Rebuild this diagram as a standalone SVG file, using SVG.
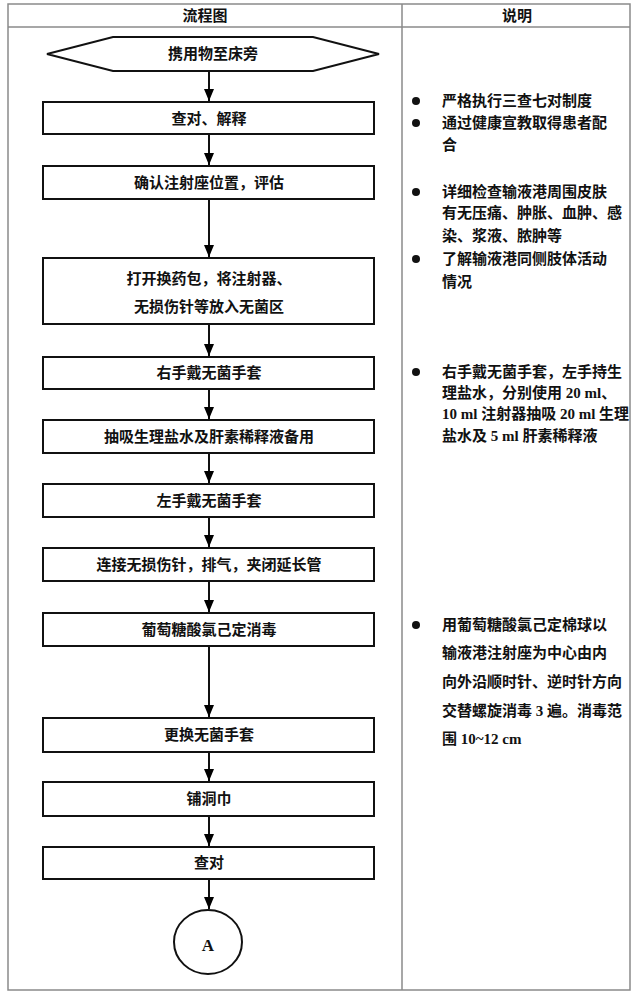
<svg xmlns="http://www.w3.org/2000/svg" width="639" height="999" viewBox="0 0 639 999">
<defs>
<marker id="ah" markerWidth="12" markerHeight="10" refX="12" refY="5" orient="auto" markerUnits="userSpaceOnUse" viewBox="0 0 12 10">
<path d="M0,0 L12,5 L0,10 Z" fill="#000"/>
</marker>
<style>
.grid{stroke:#8a8a8a;stroke-width:1.5;fill:none}
.box{fill:#fff;stroke:#111;stroke-width:2}
.t{font-family:"Liberation Serif","Noto Sans CJK SC",serif;font-size:15px;font-weight:bold;fill:#111;text-anchor:middle;dominant-baseline:central}
.r{font-family:"Liberation Serif","Noto Sans CJK SC",serif;font-size:15px;font-weight:bold;fill:#111;dominant-baseline:central}
.c{stroke:#111;stroke-width:2;fill:none}
</style>
</defs>
<rect width="639" height="999" fill="#fff"/>
<g id="table">
<rect x="8" y="4" width="622" height="986" class="grid"/>
<line x1="8" y1="27" x2="630" y2="27" class="grid"/>
<line x1="402" y1="4" x2="402" y2="990" class="grid"/>
<text x="205" y="16" class="t">流程图</text>
<text x="517" y="16" class="t">说明</text>
</g>
<g id="connectors">
<line x1="209" y1="71" x2="209" y2="101" class="c" marker-end="url(#ah)"/>
<line x1="209" y1="134" x2="209" y2="165" class="c" marker-end="url(#ah)"/>
<line x1="209" y1="199" x2="209" y2="257" class="c" marker-end="url(#ah)"/>
<line x1="209" y1="324" x2="209" y2="356" class="c" marker-end="url(#ah)"/>
<line x1="209" y1="389" x2="209" y2="419" class="c" marker-end="url(#ah)"/>
<line x1="209" y1="453" x2="209" y2="483" class="c" marker-end="url(#ah)"/>
<line x1="209" y1="517" x2="209" y2="547" class="c" marker-end="url(#ah)"/>
<line x1="209" y1="581" x2="209" y2="612" class="c" marker-end="url(#ah)"/>
<line x1="209" y1="646" x2="209" y2="717" class="c" marker-end="url(#ah)"/>
<line x1="209" y1="752" x2="209" y2="781" class="c" marker-end="url(#ah)"/>
<line x1="209" y1="816" x2="209" y2="846" class="c" marker-end="url(#ah)"/>
<line x1="209" y1="879" x2="209" y2="909" class="c" marker-end="url(#ah)"/>
</g>
<g id="n0">
<polygon points="47,54 113,37 313,37 379,54 313,71 113,71" class="box"/>
<text x="213" y="54" class="t">携用物至床旁</text>
</g>
<g id="n1"><rect x="43" y="102" width="331" height="32" class="box"/><text x="209" y="119" class="t">查对、解释</text></g>
<g id="n2"><rect x="43" y="166" width="331" height="33" class="box"/><text x="209" y="183" class="t">确认注射座位置，评估</text></g>
<g id="n3"><rect x="43" y="258" width="331" height="66" class="box"/><text x="209" y="279" class="t">打开换药包，将注射器、</text><text x="209" y="307" class="t">无损伤针等放入无菌区</text></g>
<g id="n4"><rect x="43" y="357" width="331" height="32" class="box"/><text x="209" y="373" class="t">右手戴无菌手套</text></g>
<g id="n5"><rect x="43" y="420" width="331" height="33" class="box"/><text x="209" y="437" class="t">抽吸生理盐水及肝素稀释液备用</text></g>
<g id="n6"><rect x="43" y="484" width="331" height="33" class="box"/><text x="209" y="501" class="t">左手戴无菌手套</text></g>
<g id="n7"><rect x="43" y="548" width="331" height="33" class="box"/><text x="209" y="565" class="t">连接无损伤针，排气，夹闭延长管</text></g>
<g id="n8"><rect x="43" y="613" width="331" height="33" class="box"/><text x="209" y="630" class="t">葡萄糖酸氯己定消毒</text></g>
<g id="n9"><rect x="43" y="718" width="331" height="34" class="box"/><text x="209" y="735" class="t">更换无菌手套</text></g>
<g id="n10"><rect x="43" y="782" width="331" height="34" class="box"/><text x="209" y="799" class="t">铺洞巾</text></g>
<g id="n11"><rect x="43" y="847" width="331" height="32" class="box"/><text x="209" y="863" class="t">查对</text></g>
<g id="n12"><ellipse cx="208" cy="942" rx="34" ry="32" class="box"/><text x="208" y="945" class="t" style="font-size:17px">A</text></g>
<g id="notes">
<circle cx="416" cy="101" r="4" fill="#111"/>
<text x="442" y="101" class="r">严格执行三查七对制度</text>
<circle cx="416" cy="123" r="4" fill="#111"/>
<text x="442" y="123" class="r">通过健康宣教取得患者配</text>
<text x="442" y="145" class="r">合</text>
<circle cx="416" cy="192" r="4" fill="#111"/>
<text x="442" y="192" class="r">详细检查输液港周围皮肤</text>
<text x="442" y="213" class="r">有无压痛、肿胀、血肿、感</text>
<text x="442" y="236" class="r">染、浆液、脓肿等</text>
<circle cx="416" cy="259" r="4" fill="#111"/>
<text x="442" y="259" class="r">了解输液港同侧肢体活动</text>
<text x="442" y="282" class="r">情况</text>
<circle cx="416" cy="372" r="4" fill="#111"/>
<text x="442" y="372" class="r">右手戴无菌手套，左手持生</text>
<text x="442" y="393" class="r">理盐水，分别使用 20 ml、</text>
<text x="442" y="414" class="r">10 ml 注射器抽吸 20 ml 生理</text>
<text x="442" y="436" class="r">盐水及 5 ml 肝素稀释液</text>
<circle cx="416" cy="625" r="4" fill="#111"/>
<text x="442" y="625" class="r">用葡萄糖酸氯己定棉球以</text>
<text x="442" y="653" class="r">输液港注射座为中心由内</text>
<text x="442" y="682" class="r">向外沿顺时针、逆时针方向</text>
<text x="442" y="711" class="r">交替螺旋消毒 3 遍。消毒范</text>
<text x="442" y="739" class="r">围 10~12 cm</text>
</g>
</svg>
